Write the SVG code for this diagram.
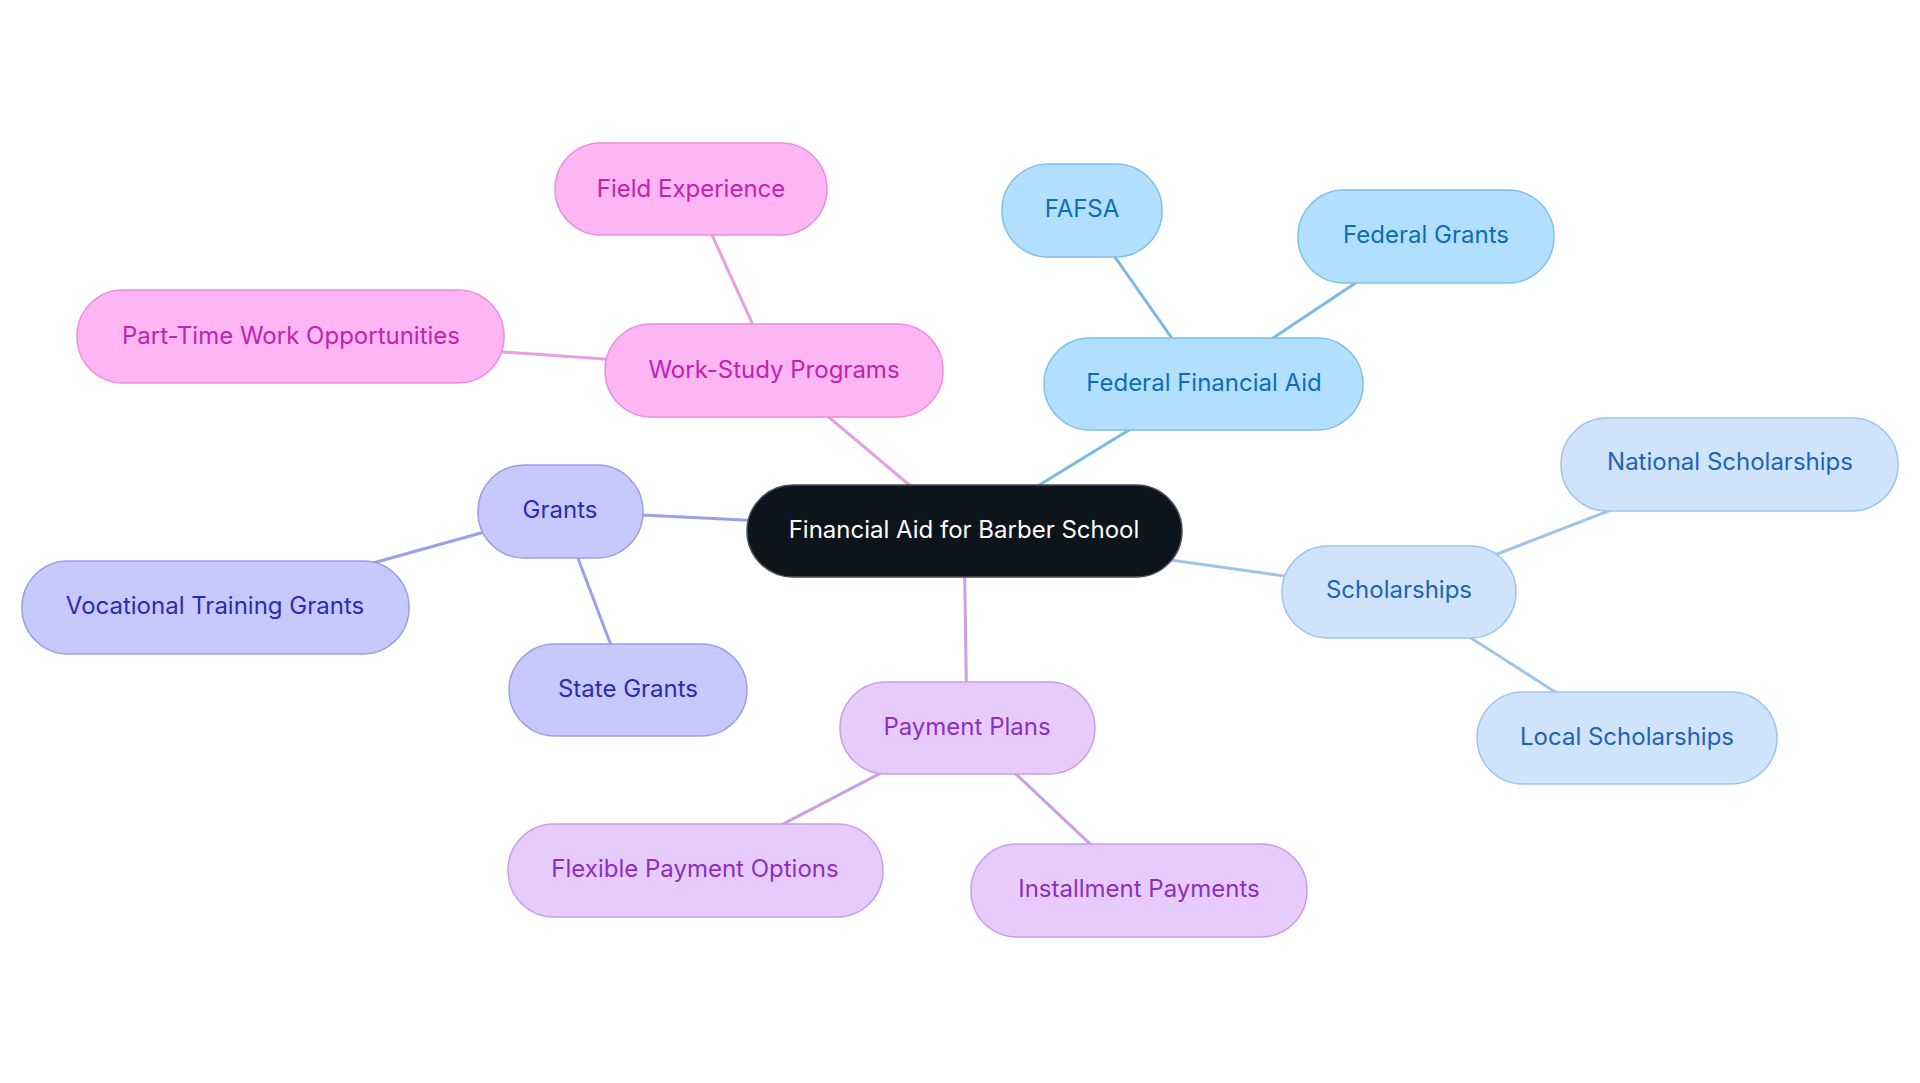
<svg xmlns="http://www.w3.org/2000/svg" width="1920" height="1083" viewBox="0 0 1920 1083">
<style>
text{font-family:Inter,"Noto Sans","Liberation Sans",sans-serif;font-size:24px;text-anchor:middle;dominant-baseline:central}
.edge{stroke-width:3;fill:none}
.root rect{fill:#0d141b;stroke:#4a4f55;stroke-width:1.5}
.root text{fill:#ffffff}
.pink rect{fill:#fdb5f3;stroke:#e78fe0;stroke-width:1.5}
.pink text{fill:#c023b0}
.fed rect{fill:#b2dffd;stroke:#80bfe8;stroke-width:1.5}
.fed text{fill:#0d6db8}
.sch rect{fill:#cfe4fb;stroke:#9ec3ec;stroke-width:1.5}
.sch text{fill:#1e63b8}
.gr rect{fill:#c7c9fd;stroke:#9a9ee6;stroke-width:1.5}
.gr text{fill:#2a2db0}
.pay rect{fill:#e8cbfd;stroke:#c79ee6;stroke-width:1.5}
.pay text{fill:#8b2fc2}
</style>
<rect width="1920" height="1083" fill="#ffffff"/>
<g id="connectors">
<line class="edge" stroke="#e99ee2" x1="964" y1="531" x2="774" y2="371"/>
<line class="edge" stroke="#e99ee2" x1="774" y1="371" x2="691" y2="189"/>
<line class="edge" stroke="#e99ee2" x1="774" y1="371" x2="291" y2="337"/>
<line class="edge" stroke="#7bb9e6" x1="964" y1="531" x2="1204" y2="384"/>
<line class="edge" stroke="#7bb9e6" x1="1204" y1="384" x2="1082" y2="210"/>
<line class="edge" stroke="#7bb9e6" x1="1204" y1="384" x2="1426" y2="236"/>
<line class="edge" stroke="#9fc3ec" x1="964" y1="531" x2="1399" y2="592"/>
<line class="edge" stroke="#9fc3ec" x1="1399" y1="592" x2="1730" y2="464"/>
<line class="edge" stroke="#9fc3ec" x1="1399" y1="592" x2="1627" y2="738"/>
<line class="edge" stroke="#9d9fe8" x1="964" y1="531" x2="560" y2="511"/>
<line class="edge" stroke="#9d9fe8" x1="560" y1="511" x2="215" y2="607"/>
<line class="edge" stroke="#9d9fe8" x1="560" y1="511" x2="628" y2="690"/>
<line class="edge" stroke="#c99fe8" x1="964" y1="531" x2="967" y2="728"/>
<line class="edge" stroke="#c99fe8" x1="967" y1="728" x2="695" y2="870"/>
<line class="edge" stroke="#c99fe8" x1="967" y1="728" x2="1139" y2="890"/>
</g>
<g id="root" class="root"><rect x="747" y="485" width="435" height="92" rx="46"/><text x="964" y="529">Financial Aid for Barber School</text></g>
<g id="work-study" class="pink"><rect x="605" y="324" width="338" height="93" rx="46"/><text x="774" y="369">Work-Study Programs</text></g>
<g id="field-experience" class="pink"><rect x="555" y="143" width="272" height="92" rx="46"/><text x="691" y="188">Field Experience</text></g>
<g id="part-time" class="pink"><rect x="77" y="290" width="427" height="93" rx="46"/><text x="291" y="335">Part-Time Work Opportunities</text></g>
<g id="federal-aid" class="fed"><rect x="1044" y="338" width="319" height="92" rx="46"/><text x="1204" y="382">Federal Financial Aid</text></g>
<g id="fafsa" class="fed"><rect x="1002" y="164" width="160" height="93" rx="46"/><text x="1082" y="208">FAFSA</text></g>
<g id="federal-grants" class="fed"><rect x="1298" y="190" width="256" height="93" rx="46"/><text x="1426" y="234">Federal Grants</text></g>
<g id="scholarships" class="sch"><rect x="1282" y="546" width="234" height="92" rx="46"/><text x="1399" y="589">Scholarships</text></g>
<g id="national-scholarships" class="sch"><rect x="1561" y="418" width="337" height="93" rx="46"/><text x="1730" y="461">National Scholarships</text></g>
<g id="local-scholarships" class="sch"><rect x="1477" y="692" width="300" height="92" rx="46"/><text x="1627" y="736">Local Scholarships</text></g>
<g id="grants" class="gr"><rect x="478" y="465" width="165" height="93" rx="46"/><text x="560" y="509">Grants</text></g>
<g id="vocational-grants" class="gr"><rect x="22" y="561" width="387" height="93" rx="46"/><text x="215" y="605">Vocational Training Grants</text></g>
<g id="state-grants" class="gr"><rect x="509" y="644" width="238" height="92" rx="46"/><text x="628" y="688">State Grants</text></g>
<g id="payment-plans" class="pay"><rect x="840" y="682" width="255" height="92" rx="46"/><text x="967" y="726">Payment Plans</text></g>
<g id="flexible-payment" class="pay"><rect x="508" y="824" width="375" height="93" rx="46"/><text x="695" y="868">Flexible Payment Options</text></g>
<g id="installment-payments" class="pay"><rect x="971" y="844" width="336" height="93" rx="46"/><text x="1139" y="888">Installment Payments</text></g>
</svg>
